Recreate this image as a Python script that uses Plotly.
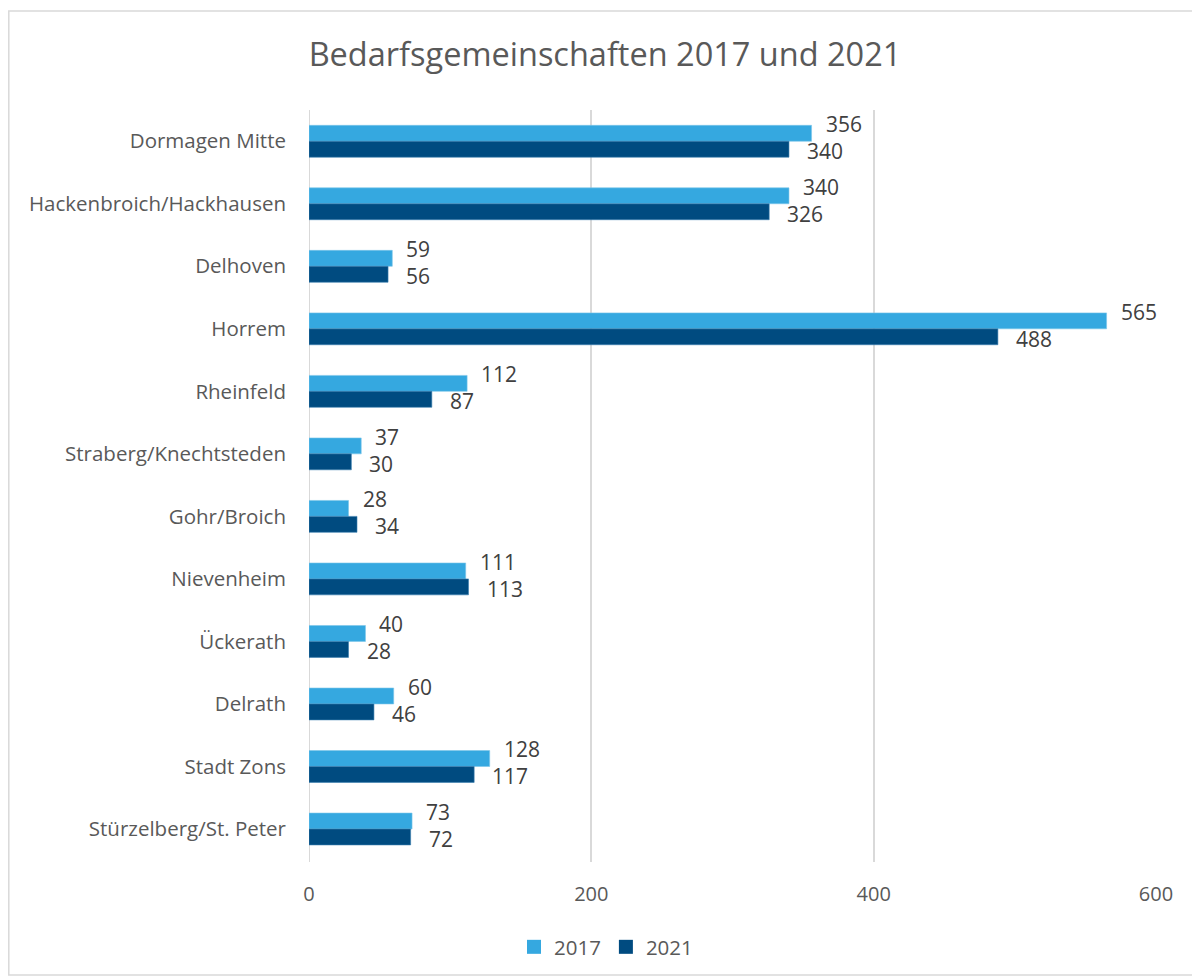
import plotly.graph_objects as go

categories = ["Dormagen Mitte", "Hackenbroich/Hackhausen", "Delhoven", "Horrem",
              "Rheinfeld", "Straberg/Knechtsteden", "Gohr/Broich", "Nievenheim",
              "Ückerath", "Delrath", "Stadt Zons", "Stürzelberg/St. Peter"]
values_2017 = [356, 340, 59, 565, 112, 37, 28, 111, 40, 60, 128, 73]
values_2021 = [340, 326, 56, 488, 87, 30, 34, 113, 28, 46, 117, 72]
x_ticks = [0, 200, 400, 600]

FONT = "Open Sans"
TXT = "#595959"
LBL = "#404040"
C2017 = "#35A8E0"
C2021 = "#004B80"
W, H = 1192, 971          # page body has an 8px margin
L, R, T, B = 301, 44, 102, 117
PW, PH = W - L - R, H - T - B

fig = go.Figure()
fig.add_trace(go.Bar(y=categories, x=values_2017, name="2017", orientation="h", showlegend=False,
                     marker=dict(color=C2017, line=dict(color="#7cc6ea", width=0.6))))
fig.add_trace(go.Bar(y=categories, x=values_2021, name="2021", orientation="h", showlegend=False,
                     marker=dict(color=C2021, line=dict(color="#3b7fb0", width=0.6))))
# legend entries with larger square swatches
for name, col in [("2017", C2017), ("2021", C2021)]:
    fig.add_trace(go.Scatter(x=[None], y=[None], mode="markers", name=name,
                             marker=dict(symbol="square", size=14, color=col)))

annotations = []
for cat, v in zip(categories, values_2017):
    annotations.append(dict(x=v, y=cat, xref="x", yref="y", text=str(v), showarrow=False,
                            xanchor="left", yanchor="middle", xshift=12, yshift=17,
                            font=dict(size=21, color=LBL, family=FONT)))
for cat, v in zip(categories, values_2021):
    annotations.append(dict(x=v, y=cat, xref="x", yref="y", text=str(v), showarrow=False,
                            xanchor="left", yanchor="middle", xshift=16, yshift=-10,
                            font=dict(size=21, color=LBL, family=FONT)))

fig.update_layout(
    width=W, height=H,
    paper_bgcolor="white", plot_bgcolor="white",
    barmode="group", bargap=0.49, bargroupgap=0,
    margin=dict(l=L, r=R, t=T, b=B),
    font=dict(family=FONT, color=TXT, size=20),
    title=dict(text="Bedarfsgemeinschaften 2017 und 2021", x=597 / W, xanchor="center",
               y=1 - 47 / H, yanchor="middle", font=dict(size=32.5, color=TXT, family=FONT)),
    legend=dict(orientation="h", x=(598 - L) / PW, xanchor="center", y=(854 - 939) / PH,
                yanchor="middle", font=dict(size=20.5, color=TXT), traceorder="normal"),
    xaxis=dict(range=[0, 600], tickvals=x_ticks, showgrid=True, gridcolor="#d9d9d9", gridwidth=2,
               zeroline=False, showline=False, ticks="", ticklabelstandoff=18,
               tickfont=dict(size=20, color=TXT)),
    yaxis=dict(autorange="reversed", showgrid=False, zeroline=False, showline=False,
               ticks="", ticklabelstandoff=22, tickfont=dict(size=20.5, color=TXT)),
    annotations=annotations,
    shapes=[
        dict(type="line", xref="x", yref="paper", x0=0, x1=0, y0=0, y1=1,
             line=dict(color="#d9d9d9", width=2), layer="below"),
        dict(type="rect", xref="paper", yref="paper",
             x0=(0.8 - L) / PW, x1=(1187 - L) / PW,
             y0=(854 - 967) / PH, y1=(854 - 3) / PH,
             line=dict(color="#d9d9d9", width=1.5), fillcolor="rgba(0,0,0,0)", layer="below"),
    ],
)

fig.write_html("out.html")
